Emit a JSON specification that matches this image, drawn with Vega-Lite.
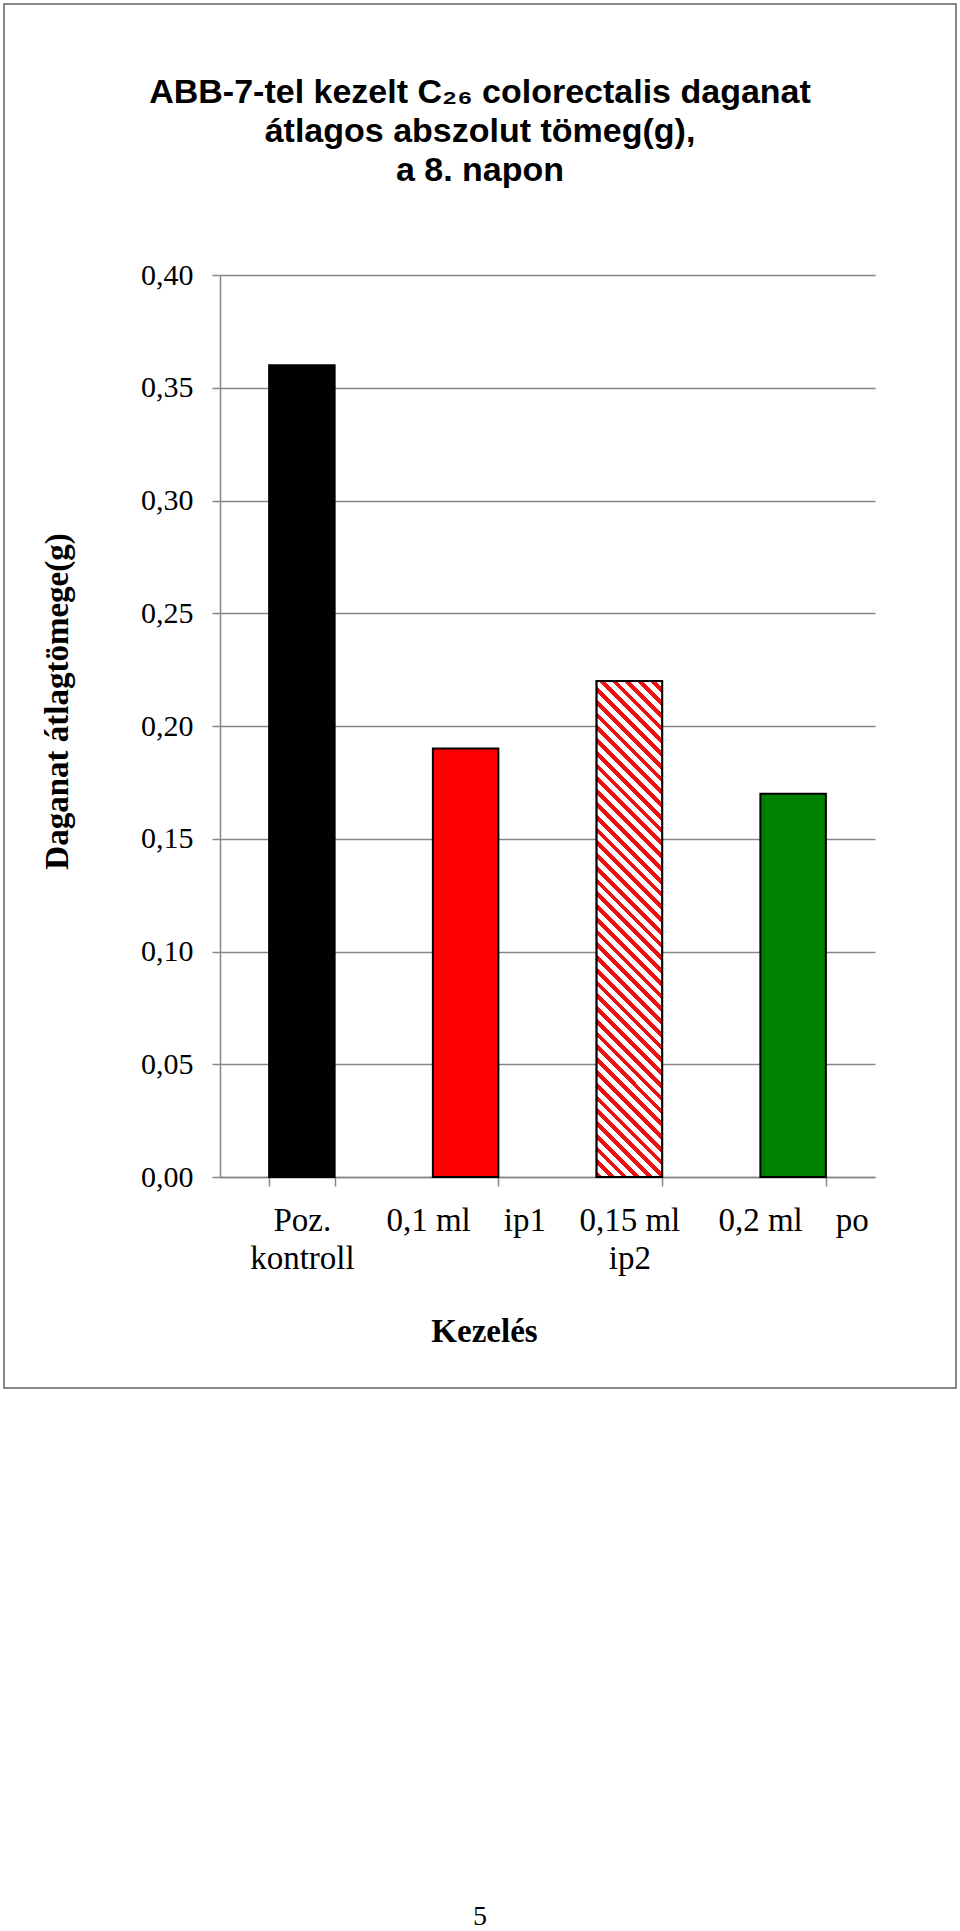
{
  "$schema": "https://vega.github.io/schema/vega-lite/v6.json",
  "autosize": "none",
  "width": 952,
  "height": 1384,
  "padding": {"left": 4, "top": 4, "right": 4, "bottom": 543},
  "background": "white",
  "config": {"view": {"stroke": "#888888", "strokeWidth": 2}},
  "title": {
    "text": ["ABB-7-tel kezelt C₂₆ colorectalis daganat", "átlagos abszolut tömeg(g),", "a 8. napon"],
    "font": "Liberation Sans",
    "fontSize": 34,
    "fontWeight": "bold",
    "color": "black",
    "lineHeight": 39,
    "anchor": "middle",
    "frame": "group",
    "offset": -184
  },
  "layer": [
    {
      "data": {"values": [
        {"kezeles": "Poz. kontroll", "tomeg": 0.36},
        {"kezeles": "0,1 ml ip1", "tomeg": 0.19},
        {"kezeles": "0,15 ml ip2", "tomeg": 0.22},
        {"kezeles": "0,2 ml po", "tomeg": 0.17}
      ]},
      "mark": {"type": "bar", "stroke": "black", "strokeWidth": 2},
      "encoding": {
        "x": {
          "field": "kezeles", "type": "nominal", "sort": null, "title": "Kezelés",
          "scale": {"domain": ["Poz. kontroll", "0,1 ml ip1", "0,15 ml ip2", "0,2 ml po"], "range": [216, 871], "paddingInner": 0.6, "paddingOuter": 0.3},
          "axis": {
            "orient": "bottom", "offset": -211,
            "domainColor": "#868686", "domainWidth": 1.5,
            "tickColor": "#868686", "tickWidth": 1.5, "tickSize": 9, "tickBand": "extent",
            "labelAngle": 0, "labelFont": "Liberation Serif", "labelFontSize": 33, "labelColor": "black",
            "labelLineHeight": 38, "labelPadding": 18, "labelBaseline": "top",
            "labelExpr": "!isValid(datum.value) ? '' : datum.value == 'Poz. kontroll' ? ['Poz.', 'kontroll'] : datum.value == '0,15 ml ip2' ? ['0,15 ml', 'ip2'] : datum.value == '0,1 ml ip1' ? '0,1 ml\u00a0\u00a0\u00a0\u00a0ip1' : datum.value == '0,2 ml po' ? '0,2 ml\u00a0\u00a0\u00a0\u00a0po' : ''",
            "titleFont": "Liberation Serif", "titleFontSize": 33, "titleFontWeight": "bold", "titleColor": "black",
            "titleX": 480, "titleY": 164, "titleBaseline": "alphabetic", "titleAlign": "center"
          }
        },
        "y": {
          "field": "tomeg", "type": "quantitative", "title": "Daganat átlagtömege(g)",
          "scale": {"domain": [0, 0.4], "range": [1173, 271], "nice": false},
          "axis": {
            "orient": "left", "offset": -216,
            "values": [0, 0.05, 0.1, 0.15, 0.2, 0.25, 0.3, 0.35, 0.4],
            "labelExpr": "replace(format(datum.value, '.2f'), '.', ',')",
            "domainColor": "#868686", "domainWidth": 1.5,
            "tickColor": "#868686", "tickWidth": 1.5, "tickSize": 8,
            "grid": true, "gridColor": "#868686", "gridWidth": 1.5,
            "labelFont": "Liberation Serif", "labelFontSize": 30, "labelColor": "black", "labelPadding": 19,
            "titleFont": "Liberation Serif", "titleFontSize": 33, "titleFontWeight": "bold", "titleColor": "black",
            "titleX": -153, "titleY": 697, "titleBaseline": "alphabetic", "titleAlign": "center", "titleAngle": -90
          }
        },
        "fill": {
          "field": "kezeles", "type": "nominal", "legend": null,
          "scale": {"domain": ["Poz. kontroll", "0,1 ml ip1", "0,15 ml ip2", "0,2 ml po"], "range": ["#000000", "#ff0000", "#ffffff", "#008000"]}
        }
      }
    },
    {
      "data": {"values": [
        {"kezeles": "0,15 ml ip2", "tomeg": 0.22}
      ]},
      "mark": {
        "type": "bar", "stroke": "black", "strokeWidth": 2,
        "fill": {
          "gradient": "linear", "x1": 0, "y1": 1, "x2": 0.1469, "y2": -0.1126,
          "stops": [
            {"offset": 0, "color": "#ee1111"}, {"offset": 0.010227, "color": "#ee1111"}, {"offset": 0.010227, "color": "#ffffff"}, {"offset": 0.022727, "color": "#ffffff"},
            {"offset": 0.022727, "color": "#ee1111"}, {"offset": 0.032955, "color": "#ee1111"}, {"offset": 0.032955, "color": "#ffffff"}, {"offset": 0.045455, "color": "#ffffff"},
            {"offset": 0.045455, "color": "#ee1111"}, {"offset": 0.055682, "color": "#ee1111"}, {"offset": 0.055682, "color": "#ffffff"}, {"offset": 0.068182, "color": "#ffffff"},
            {"offset": 0.068182, "color": "#ee1111"}, {"offset": 0.078409, "color": "#ee1111"}, {"offset": 0.078409, "color": "#ffffff"}, {"offset": 0.090909, "color": "#ffffff"},
            {"offset": 0.090909, "color": "#ee1111"}, {"offset": 0.101136, "color": "#ee1111"}, {"offset": 0.101136, "color": "#ffffff"}, {"offset": 0.113636, "color": "#ffffff"},
            {"offset": 0.113636, "color": "#ee1111"}, {"offset": 0.123864, "color": "#ee1111"}, {"offset": 0.123864, "color": "#ffffff"}, {"offset": 0.136364, "color": "#ffffff"},
            {"offset": 0.136364, "color": "#ee1111"}, {"offset": 0.146591, "color": "#ee1111"}, {"offset": 0.146591, "color": "#ffffff"}, {"offset": 0.159091, "color": "#ffffff"},
            {"offset": 0.159091, "color": "#ee1111"}, {"offset": 0.169318, "color": "#ee1111"}, {"offset": 0.169318, "color": "#ffffff"}, {"offset": 0.181818, "color": "#ffffff"},
            {"offset": 0.181818, "color": "#ee1111"}, {"offset": 0.192045, "color": "#ee1111"}, {"offset": 0.192045, "color": "#ffffff"}, {"offset": 0.204545, "color": "#ffffff"},
            {"offset": 0.204545, "color": "#ee1111"}, {"offset": 0.214773, "color": "#ee1111"}, {"offset": 0.214773, "color": "#ffffff"}, {"offset": 0.227273, "color": "#ffffff"},
            {"offset": 0.227273, "color": "#ee1111"}, {"offset": 0.2375, "color": "#ee1111"}, {"offset": 0.2375, "color": "#ffffff"}, {"offset": 0.25, "color": "#ffffff"},
            {"offset": 0.25, "color": "#ee1111"}, {"offset": 0.260227, "color": "#ee1111"}, {"offset": 0.260227, "color": "#ffffff"}, {"offset": 0.272727, "color": "#ffffff"},
            {"offset": 0.272727, "color": "#ee1111"}, {"offset": 0.282955, "color": "#ee1111"}, {"offset": 0.282955, "color": "#ffffff"}, {"offset": 0.295455, "color": "#ffffff"},
            {"offset": 0.295455, "color": "#ee1111"}, {"offset": 0.305682, "color": "#ee1111"}, {"offset": 0.305682, "color": "#ffffff"}, {"offset": 0.318182, "color": "#ffffff"},
            {"offset": 0.318182, "color": "#ee1111"}, {"offset": 0.328409, "color": "#ee1111"}, {"offset": 0.328409, "color": "#ffffff"}, {"offset": 0.340909, "color": "#ffffff"},
            {"offset": 0.340909, "color": "#ee1111"}, {"offset": 0.351136, "color": "#ee1111"}, {"offset": 0.351136, "color": "#ffffff"}, {"offset": 0.363636, "color": "#ffffff"},
            {"offset": 0.363636, "color": "#ee1111"}, {"offset": 0.373864, "color": "#ee1111"}, {"offset": 0.373864, "color": "#ffffff"}, {"offset": 0.386364, "color": "#ffffff"},
            {"offset": 0.386364, "color": "#ee1111"}, {"offset": 0.396591, "color": "#ee1111"}, {"offset": 0.396591, "color": "#ffffff"}, {"offset": 0.409091, "color": "#ffffff"},
            {"offset": 0.409091, "color": "#ee1111"}, {"offset": 0.419318, "color": "#ee1111"}, {"offset": 0.419318, "color": "#ffffff"}, {"offset": 0.431818, "color": "#ffffff"},
            {"offset": 0.431818, "color": "#ee1111"}, {"offset": 0.442045, "color": "#ee1111"}, {"offset": 0.442045, "color": "#ffffff"}, {"offset": 0.454545, "color": "#ffffff"},
            {"offset": 0.454545, "color": "#ee1111"}, {"offset": 0.464773, "color": "#ee1111"}, {"offset": 0.464773, "color": "#ffffff"}, {"offset": 0.477273, "color": "#ffffff"},
            {"offset": 0.477273, "color": "#ee1111"}, {"offset": 0.4875, "color": "#ee1111"}, {"offset": 0.4875, "color": "#ffffff"}, {"offset": 0.5, "color": "#ffffff"},
            {"offset": 0.5, "color": "#ee1111"}, {"offset": 0.510227, "color": "#ee1111"}, {"offset": 0.510227, "color": "#ffffff"}, {"offset": 0.522727, "color": "#ffffff"},
            {"offset": 0.522727, "color": "#ee1111"}, {"offset": 0.532955, "color": "#ee1111"}, {"offset": 0.532955, "color": "#ffffff"}, {"offset": 0.545455, "color": "#ffffff"},
            {"offset": 0.545455, "color": "#ee1111"}, {"offset": 0.555682, "color": "#ee1111"}, {"offset": 0.555682, "color": "#ffffff"}, {"offset": 0.568182, "color": "#ffffff"},
            {"offset": 0.568182, "color": "#ee1111"}, {"offset": 0.578409, "color": "#ee1111"}, {"offset": 0.578409, "color": "#ffffff"}, {"offset": 0.590909, "color": "#ffffff"},
            {"offset": 0.590909, "color": "#ee1111"}, {"offset": 0.601136, "color": "#ee1111"}, {"offset": 0.601136, "color": "#ffffff"}, {"offset": 0.613636, "color": "#ffffff"},
            {"offset": 0.613636, "color": "#ee1111"}, {"offset": 0.623864, "color": "#ee1111"}, {"offset": 0.623864, "color": "#ffffff"}, {"offset": 0.636364, "color": "#ffffff"},
            {"offset": 0.636364, "color": "#ee1111"}, {"offset": 0.646591, "color": "#ee1111"}, {"offset": 0.646591, "color": "#ffffff"}, {"offset": 0.659091, "color": "#ffffff"},
            {"offset": 0.659091, "color": "#ee1111"}, {"offset": 0.669318, "color": "#ee1111"}, {"offset": 0.669318, "color": "#ffffff"}, {"offset": 0.681818, "color": "#ffffff"},
            {"offset": 0.681818, "color": "#ee1111"}, {"offset": 0.692045, "color": "#ee1111"}, {"offset": 0.692045, "color": "#ffffff"}, {"offset": 0.704545, "color": "#ffffff"},
            {"offset": 0.704545, "color": "#ee1111"}, {"offset": 0.714773, "color": "#ee1111"}, {"offset": 0.714773, "color": "#ffffff"}, {"offset": 0.727273, "color": "#ffffff"},
            {"offset": 0.727273, "color": "#ee1111"}, {"offset": 0.7375, "color": "#ee1111"}, {"offset": 0.7375, "color": "#ffffff"}, {"offset": 0.75, "color": "#ffffff"},
            {"offset": 0.75, "color": "#ee1111"}, {"offset": 0.760227, "color": "#ee1111"}, {"offset": 0.760227, "color": "#ffffff"}, {"offset": 0.772727, "color": "#ffffff"},
            {"offset": 0.772727, "color": "#ee1111"}, {"offset": 0.782955, "color": "#ee1111"}, {"offset": 0.782955, "color": "#ffffff"}, {"offset": 0.795455, "color": "#ffffff"},
            {"offset": 0.795455, "color": "#ee1111"}, {"offset": 0.805682, "color": "#ee1111"}, {"offset": 0.805682, "color": "#ffffff"}, {"offset": 0.818182, "color": "#ffffff"},
            {"offset": 0.818182, "color": "#ee1111"}, {"offset": 0.828409, "color": "#ee1111"}, {"offset": 0.828409, "color": "#ffffff"}, {"offset": 0.840909, "color": "#ffffff"},
            {"offset": 0.840909, "color": "#ee1111"}, {"offset": 0.851136, "color": "#ee1111"}, {"offset": 0.851136, "color": "#ffffff"}, {"offset": 0.863636, "color": "#ffffff"},
            {"offset": 0.863636, "color": "#ee1111"}, {"offset": 0.873864, "color": "#ee1111"}, {"offset": 0.873864, "color": "#ffffff"}, {"offset": 0.886364, "color": "#ffffff"},
            {"offset": 0.886364, "color": "#ee1111"}, {"offset": 0.896591, "color": "#ee1111"}, {"offset": 0.896591, "color": "#ffffff"}, {"offset": 0.909091, "color": "#ffffff"},
            {"offset": 0.909091, "color": "#ee1111"}, {"offset": 0.919318, "color": "#ee1111"}, {"offset": 0.919318, "color": "#ffffff"}, {"offset": 0.931818, "color": "#ffffff"},
            {"offset": 0.931818, "color": "#ee1111"}, {"offset": 0.942045, "color": "#ee1111"}, {"offset": 0.942045, "color": "#ffffff"}, {"offset": 0.954545, "color": "#ffffff"},
            {"offset": 0.954545, "color": "#ee1111"}, {"offset": 0.964773, "color": "#ee1111"}, {"offset": 0.964773, "color": "#ffffff"}, {"offset": 0.977273, "color": "#ffffff"},
            {"offset": 0.977273, "color": "#ee1111"}, {"offset": 0.9875, "color": "#ee1111"}, {"offset": 0.9875, "color": "#ffffff"}, {"offset": 1, "color": "#ffffff"}
          ]
        }
      },
      "encoding": {
        "x": {"field": "kezeles", "type": "nominal", "sort": null},
        "y": {"field": "tomeg", "type": "quantitative"}
      }
    },
    {
      "data": {"values": [{"oldal": "5"}]},
      "mark": {"type": "text", "font": "Liberation Serif", "fontSize": 28, "color": "black", "baseline": "middle", "align": "center"},
      "encoding": {
        "text": {"field": "oldal", "type": "nominal"},
        "y": {"datum": -0.3282, "type": "quantitative"}
      }
    }
  ]
}
